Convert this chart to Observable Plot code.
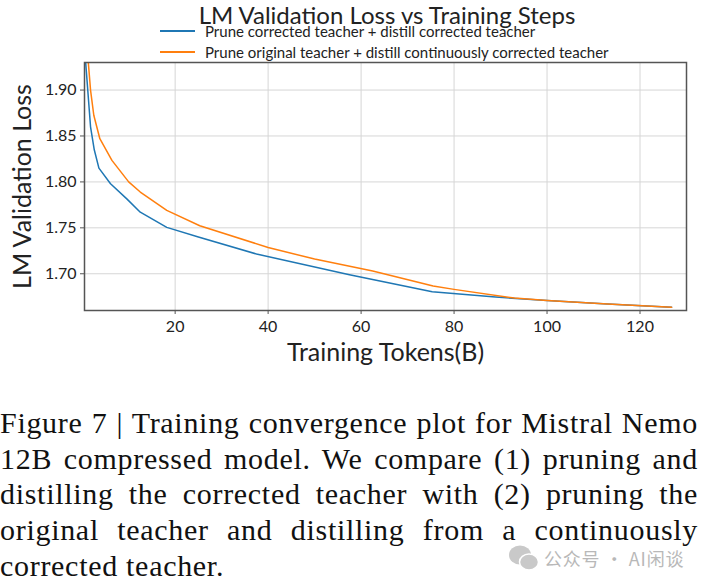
<!DOCTYPE html>
<html>
<head>
<meta charset="utf-8">
<script src="https://cdn.jsdelivr.net/npm/d3@7"></script>
<script src="https://cdn.jsdelivr.net/npm/@observablehq/plot@0.6"></script>
<style>
  html, body { margin: 0; padding: 0; background: #fff; }
  #wrap { position: relative; width: 702px; height: 585px; overflow: hidden; font-family: Lato, "Noto Sans", sans-serif; color: #222; }
  #header { position: relative; height: 56px; }
  #title { position: absolute; left: 387px; top: 0px; transform: translateX(-50%); font-size: 24px; line-height: normal; white-space: nowrap; color: #222; }
  .leg { position: absolute; left: 160px; display: flex; align-items: center; font-size: 15px; line-height: 14px; white-space: nowrap; color: #222; }
  .leg .sw { width: 35px; height: 2px; margin-right: 10px; }
  #caption { margin-top: 40px; font-family: "Liberation Serif", "DejaVu Serif", serif; font-size: 30px; letter-spacing: 0.7px; line-height: 35.7px; color: #111; width: 698px; }
  #caption .ln { text-align: justify; text-align-last: justify; white-space: nowrap; }
  #caption .ln.last { text-align-last: left; }
  #wm { position: absolute; left: 508px; top: 544px; display: flex; align-items: center; font-size: 18px; letter-spacing: 0.8px; color: #b8b8b8; font-family: "Noto Sans CJK SC", sans-serif; }
  #wm svg { margin-right: 4px; }
</style>
</head>
<body>
<div id="wrap">
  <div id="header"></div>
  <div id="chart"></div>
  <div id="caption"></div>
  <div id="wm"></div>
</div>
<script>
const chartTitle = "LM Validation Loss vs Training Steps";
const seriesNames = [
  "Prune corrected teacher + distill corrected teacher",
  "Prune original teacher + distill continuously corrected teacher"
];
const xLabel = "Training Tokens(B)";
const yLabel = "LM Validation Loss";
const xTicks = [20, 40, 60, 80, 100, 120];
const yTicks = [1.70, 1.75, 1.80, 1.85, 1.90];

const tokensBlue = [0.6, 1.2, 1.8, 2.6, 3.6, 6.1, 9.6, 12.5, 18.2, 25, 37.5, 57.5, 75.3, 88.9, 100, 113, 126.8];
const lossBlue   = [1.94, 1.90, 1.86, 1.835, 1.815, 1.798, 1.7815, 1.767, 1.7505, 1.740, 1.7215, 1.699, 1.6803, 1.6746, 1.671, 1.667, 1.6636];

const tokensOrange = [1.0, 1.8, 2.5, 3.8, 6.4, 10, 12.5, 18.2, 25.3, 40, 50, 62.5, 75.5, 80, 93, 100, 113, 126.8];
const lossOrange   = [1.95, 1.90, 1.8726, 1.847, 1.8234, 1.80, 1.789, 1.769, 1.7523, 1.7286, 1.716, 1.703, 1.6867, 1.683, 1.6735, 1.671, 1.667, 1.6636];

const captionLines = [
  "Figure 7 | Training convergence plot for Mistral Nemo",
  "12B compressed model. We compare (1) pruning and",
  "distilling the corrected teacher with (2) pruning the",
  "original teacher and distilling from a continuously",
  "corrected teacher."
];
const watermark = "公众号 · AI闲谈";

const colors = ["#1f77b4", "#ff7f0e"];

const rows = [
  ...tokensBlue.map((t, i) => ({series: seriesNames[0], tokens: t, loss: lossBlue[i]})),
  ...tokensOrange.map((t, i) => ({series: seriesNames[1], tokens: t, loss: lossOrange[i]}))
];

// header: title + legend
const header = document.getElementById("header");
const t = document.createElement("div");
t.id = "title"; t.textContent = chartTitle;
header.appendChild(t);
seriesNames.forEach((name, i) => {
  const row = document.createElement("div");
  row.className = "leg";
  row.style.top = (i === 0 ? 24 : 45) + "px";
  const sw = document.createElement("span");
  sw.className = "sw"; sw.style.background = colors[i];
  const tx = document.createElement("span");
  tx.textContent = name;
  row.appendChild(sw); row.appendChild(tx);
  header.appendChild(row);
});

const chart = Plot.plot({
  width: 702,
  height: 309,
  marginTop: 6,
  marginBottom: 55,
  marginLeft: 84,
  marginRight: 16,
  style: {fontFamily: "Lato, 'Noto Sans', sans-serif", fontSize: "16px", color: "#222", background: "white"},
  x: {domain: [0.5, 130]},
  y: {domain: [1.66, 1.93]},
  color: {domain: seriesNames, range: colors},
  marks: [
    Plot.gridX(xTicks, {stroke: "#d6d6d6", strokeOpacity: 1, strokeWidth: 1}),
    Plot.gridY(yTicks, {stroke: "#d6d6d6", strokeOpacity: 1, strokeWidth: 1}),
    Plot.axisX({ticks: xTicks, label: null, tickSize: 4, tickPadding: 6, fontSize: 16, stroke: "#555"}),
    Plot.axisY({ticks: yTicks, tickFormat: d3.format(".2f"), label: null, tickSize: 4, tickPadding: 4, fontSize: 16, stroke: "#555"}),
    Plot.line(rows, {x: "tokens", y: "loss", z: "series", stroke: "series", strokeWidth: 1.5, clip: true}),
    Plot.frame({stroke: "#555", strokeWidth: 1.5}),
    Plot.text([xLabel], {text: d => d, frameAnchor: "bottom", dy: 42, textAnchor: "middle", lineAnchor: "middle", fontSize: 25, fill: "#222"}),
    Plot.text([yLabel], {text: d => d, frameAnchor: "left", dx: -62, rotate: -90, textAnchor: "middle", lineAnchor: "middle", fontSize: 25, fill: "#222"})
  ]
});
document.getElementById("chart").appendChild(chart);

const cap = document.getElementById("caption");
captionLines.forEach((line, i) => {
  const d = document.createElement("div");
  d.className = "ln" + (i === captionLines.length - 1 ? " last" : "");
  d.textContent = line;
  cap.appendChild(d);
});

const wm = document.getElementById("wm");
wm.innerHTML = '<svg width="32" height="28" viewBox="0 0 32 28"><ellipse cx="12" cy="11" rx="11" ry="9.5" fill="#c9c9c9"/><ellipse cx="21" cy="18" rx="9.5" ry="8" fill="#c9c9c9" stroke="#fff" stroke-width="1.5"/></svg>';
const wt = document.createElement("span");
wt.textContent = watermark;
wm.appendChild(wt);
</script>
</body>
</html>
